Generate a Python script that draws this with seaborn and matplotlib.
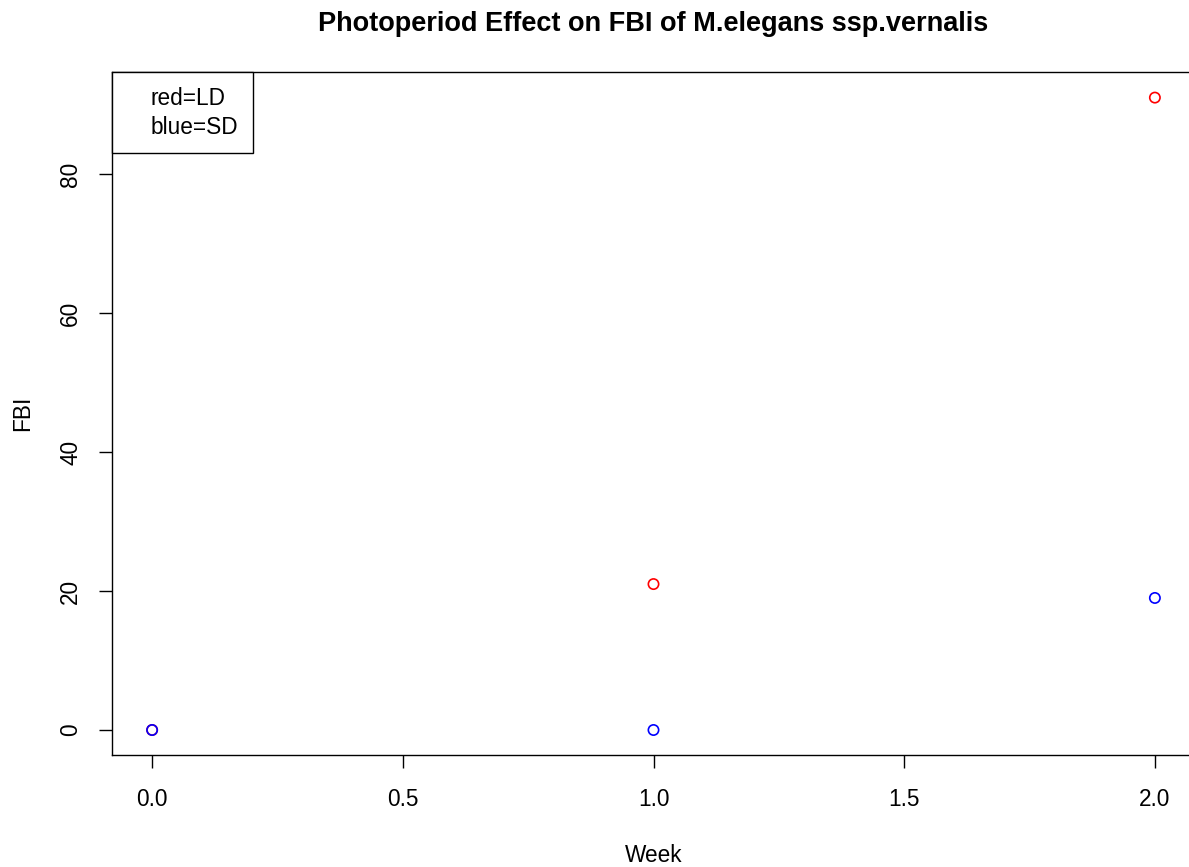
import matplotlib
matplotlib.use("Agg")
import matplotlib.pyplot as plt
from matplotlib.lines import Line2D
import seaborn as sns

# FBI readings per week
weeks = [0, 1, 2]
fbi_ld = [0, 21, 91]   # long day (red)
fbi_sd = [0, 0, 19]    # short day (blue)

sns.set_theme(style="ticks", rc={
    "axes.edgecolor": "black",
    "axes.linewidth": 1.0,
    "axes.labelcolor": "black",
    "text.color": "black",
    "xtick.color": "black",
    "ytick.color": "black",
    "xtick.major.size": 9.5,
    "ytick.major.size": 9.5,
    "xtick.major.width": 1.0,
    "ytick.major.width": 1.0,
    "xtick.major.pad": 14,
    "ytick.major.pad": 12,
})
plt.rcParams["font.family"] = ["Liberation Sans", "DejaVu Sans"]

fs = 16.3

fig = plt.figure(figsize=(11.89, 8.67), dpi=100)
ax = fig.add_axes([112 / 1189, (867 - 755.3) / 867, (1195 - 112) / 1189, (755.3 - 72.3) / 867])

sns.scatterplot(x=weeks, y=fbi_ld, ax=ax, color="red", facecolor="none",
                edgecolor="red", linewidth=1.2, s=55)
sns.scatterplot(x=weeks, y=fbi_sd, ax=ax, color="blue", facecolor="none",
                edgecolor="blue", linewidth=1.2, s=55)

ax.margins(x=0.04, y=0.04)
ax.set_xticks([0, 0.5, 1.0, 1.5, 2.0])
ax.set_xticklabels(["0.0", "0.5", "1.0", "1.5", "2.0"], fontsize=fs)
ax.set_yticks([0, 20, 40, 60, 80])
ax.set_yticklabels(["0", "20", "40", "60", "80"], fontsize=fs, rotation=90, va="center")

ax.set_xlabel("Week", fontsize=fs, labelpad=23.5)
ax.set_ylabel("FBI", fontsize=fs, labelpad=18)
ax.set_title("Photoperiod Effect on FBI of M.elegans ssp.vernalis",
             fontsize=19.5, fontweight="bold", pad=30, color="black")

handles = [Line2D([], [], linestyle="none"), Line2D([], [], linestyle="none")]
leg = ax.legend(handles, ["red=LD", "blue=SD"], loc="upper left", fontsize=fs,
                borderaxespad=0, borderpad=0.65, handlelength=0.75, handletextpad=0.3,
                labelspacing=0.25, fancybox=False, framealpha=1, edgecolor="black")
leg.get_frame().set_linewidth(1.0)

plt.savefig("out.png", dpi=100)
